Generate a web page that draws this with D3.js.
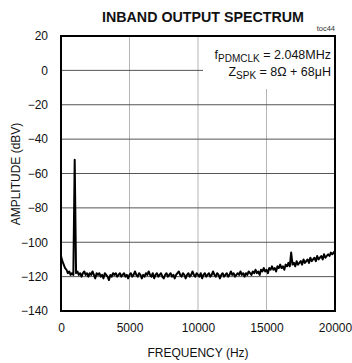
<!DOCTYPE html>
<html><head><meta charset="utf-8">
<script src="https://cdn.jsdelivr.net/npm/d3@7"></script>
<style>body{margin:0;background:#fff}svg{display:block;font-family:"Liberation Sans",Arial,sans-serif}</style>
</head><body><svg id="c" width="352" height="363"></svg>
<script>
const title = "INBAND OUTPUT SPECTRUM";
const xTicks = [0, 5000, 10000, 15000, 20000];
const yTicks = [20, 0, -20, -40, -60, -80, -100, -120, -140];
const freqStep = 100;
// amplitude (dBV) sampled every 100 Hz from 0 to 20000 Hz
const amplitude = [
-108,-111,-113,-115,-116,-118,-117,-119,-118,-119,
-52,-118,-117,-119,-118,-120,-118,-117,-119,-118,
-120,-118,-119,-117,-119,-121,-118,-119,-118,-120,
-119,-121,-118,-119,-120,-122,-119,-120,-118,-119,
-118,-120,-119,-118,-120,-119,-118,-120,-119,-121,
-119,-118,-120,-119,-117,-119,-120,-118,-119,-121,
-119,-120,-118,-119,-117,-119,-120,-118,-121,-119,
-118,-120,-119,-118,-120,-121,-119,-118,-120,-119,
-118,-120,-119,-121,-119,-118,-117,-119,-120,-118,
-119,-121,-119,-118,-120,-119,-117,-119,-120,-118,
-119,-120,-118,-121,-119,-118,-120,-119,-118,-120,
-119,-117,-119,-120,-118,-119,-121,-119,-118,-120,
-119,-118,-120,-119,-117,-119,-118,-120,-119,-118,
-119,-117,-119,-118,-120,-118,-119,-117,-118,-119,
-117,-118,-116,-118,-117,-119,-116,-117,-115,-117,
-116,-118,-115,-116,-114,-116,-115,-117,-114,-115,
-113,-115,-114,-116,-113,-114,-112,-114,-106,-113,
-112,-114,-111,-113,-112,-111,-113,-110,-112,-111,
-110,-112,-109,-111,-110,-109,-111,-108,-110,-109,
-108,-110,-107,-109,-108,-107,-108,-106,-107,-106,
-105
];
const note1 = {main:"f", sub:"PDMCLK", rest:" = 2.048MHz"};
const note2 = {main:"Z", sub:"SPK", rest:" = 8\u03A9 + 68\u03BCH"};

const svg = d3.select("#c");
const m = {l:61, r:335, t:36, b:311};
const x = d3.scaleLinear().domain([0,20000]).range([m.l, m.r]);
const y = d3.scaleLinear().domain([-140,20]).range([m.b, m.t]);

// grid
svg.append("g").selectAll("line").data(xTicks.slice(1,-1)).join("line")
  .attr("x1", d=>x(d)).attr("x2", d=>x(d)).attr("y1", m.t).attr("y2", m.b)
  .attr("stroke", "#b4b4b4").attr("stroke-width", 1);
svg.append("g").selectAll("line").data(yTicks.slice(1,-1)).join("line")
  .attr("x1", m.l).attr("x2", m.r).attr("y1", d=>y(d)).attr("y2", d=>y(d))
  .attr("stroke", "#555").attr("stroke-width", 1);

// annotation background
svg.append("rect").attr("x", 203).attr("y", m.t+1).attr("width", m.r-203-1).attr("height", 52).attr("fill", "#fff");

// data line
const data = amplitude.map((v,i)=>[i*freqStep, v]);
svg.append("path").datum(data)
  .attr("d", d3.line().x(d=>x(d[0])).y(d=>y(d[1])))
  .attr("fill","none").attr("stroke","#000").attr("stroke-width",2).attr("stroke-linejoin","round");

// frame
svg.append("rect").attr("x", m.l).attr("y", m.t).attr("width", m.r-m.l).attr("height", m.b-m.t)
  .attr("fill","none").attr("stroke","#000").attr("stroke-width",2);

// axes labels
const xa = svg.append("g").attr("transform", `translate(0,${m.b})`)
  .call(d3.axisBottom(x).tickValues(xTicks).tickSize(0).tickPadding(12).tickFormat(d3.format("d")));
xa.select(".domain").remove();
xa.selectAll("text").attr("font-size", 12).attr("font-family","Liberation Sans, Arial").attr("fill","#111");
const ya = svg.append("g").attr("transform", `translate(${m.l},0)`)
  .call(d3.axisLeft(y).tickValues(yTicks).tickSize(0).tickPadding(13).tickFormat(d3.format("d")));
ya.select(".domain").remove();
ya.selectAll("text").attr("font-size", 12).attr("font-family","Liberation Sans, Arial").attr("fill","#111");

svg.append("text").attr("x", 198).attr("y", 357).attr("text-anchor","middle")
  .attr("font-size", 12).attr("fill","#111").text("FREQUENCY (Hz)");
svg.append("text").attr("transform","translate(20,174) rotate(-90)").attr("text-anchor","middle")
  .attr("font-size", 12).attr("fill","#111").text("AMPLITUDE (dBV)");

svg.append("text").attr("x", 203).attr("y", 22).attr("text-anchor","middle")
  .attr("font-size", 14).attr("font-weight","bold").attr("textLength", 202).attr("lengthAdjust","spacingAndGlyphs")
  .attr("fill","#111").text(title);
svg.append("text").attr("x", 335).attr("y", 31).attr("text-anchor","end")
  .attr("font-size", 7.5).attr("fill","#333").text("toc44");

function note(n, yb){
  const t = svg.append("text").attr("x", 331).attr("y", yb).attr("text-anchor","end")
    .attr("font-size", 12.5).attr("fill","#111");
  t.append("tspan").text(n.main);
  t.append("tspan").attr("font-size", 10).attr("dy", 3).text(n.sub);
  t.append("tspan").attr("dy", -3).text(n.rest);
}
note(note1, 59);
note(note2, 76);
</script></body></html>
